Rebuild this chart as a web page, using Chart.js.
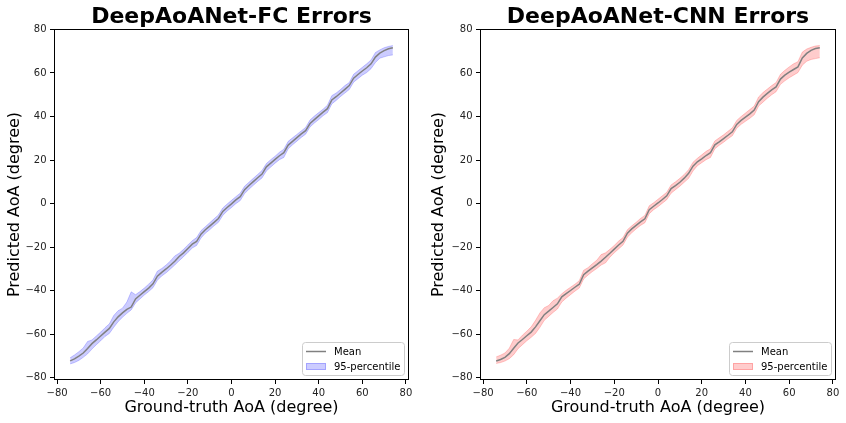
<!DOCTYPE html>
<html>
<head>
<meta charset="utf-8">
<script src="https://cdn.jsdelivr.net/npm/chart.js@4.4.1/dist/chart.umd.min.js"></script>
<style>
  body { margin: 0; background: #fff; }
  .wrap { position: absolute; top: 0; width: 423px; height: 423px; }
</style>
</head>
<body>
<div class="wrap" style="left:0"><canvas id="fcChart" width="423" height="423"></canvas></div>
<div class="wrap" style="left:423px"><canvas id="cnnChart" width="423" height="423"></canvas></div>
<script>
// ground-truth angles (degree)
const angles = [-74, -72, -70, -68, -66, -64, -62, -60, -58, -56, -54, -52, -50, -48, -46, -44, -42, -40, -38, -36,
  -34, -32, -30, -28, -26, -24, -22, -20, -18, -16, -14, -12, -10, -8, -6, -4, -2, 0, 2, 4,
  6, 8, 10, 12, 14, 16, 18, 20, 22, 24, 26, 28, 30, 32, 34, 36, 38, 40, 42, 44,
  46, 48, 50, 52, 54, 56, 58, 60, 62, 64, 66, 68, 70, 72, 74];

// DeepAoANet-FC
const fcMean = [-72.2, -71.3, -70.0, -68.6, -66.5, -64.3, -62.6, -60.8, -59.0, -57.3, -54.3, -52.0, -50.2, -48.6, -47.5, -43.8, -42.1, -40.4, -38.8, -36.8,
  -33.3, -31.6, -30.0, -28.3, -26.5, -24.3, -22.6, -20.6, -18.6, -17.4, -14.0, -12.0, -10.3, -8.6, -6.8, -3.6, -1.8, -0.1, 1.7, 3.2,
  6.4, 8.3, 10.1, 11.9, 13.6, 16.9, 18.6, 20.3, 22.0, 23.4, 26.9, 28.6, 30.3, 32.0, 33.5, 36.8, 38.6, 40.3, 42.0, 43.6,
  47.6, 49.1, 50.8, 52.5, 54.2, 57.6, 59.3, 60.9, 62.4, 64.2, 67.3, 69.1, 70.3, 71.1, 71.6];
const fcUpper = [-70.8, -69.5, -68.0, -66.3, -63.3, -62.6, -60.8, -59.0, -57.0, -55.2, -51.4, -49.2, -48.0, -45.2, -40.5, -41.8, -40.4, -38.8, -37.0, -35.0,
  -31.0, -29.8, -28.2, -26.3, -24.0, -22.8, -21.0, -19.0, -17.0, -15.6, -12.4, -10.6, -8.8, -7.0, -5.2, -2.0, -0.2, 1.5, 3.2, 4.8,
  8.0, 9.8, 11.6, 13.4, 15.2, 18.4, 20.2, 21.8, 23.6, 25.0, 28.6, 30.2, 31.8, 33.4, 35.0, 38.4, 40.2, 41.8, 43.4, 45.2,
  49.6, 50.8, 52.4, 54.2, 55.6, 59.4, 61.0, 62.6, 64.2, 66.0, 69.4, 70.6, 71.6, 72.2, 72.6];
const fcLower = [-73.6, -73.0, -72.0, -70.6, -69.0, -66.8, -64.8, -63.0, -61.0, -59.6, -56.8, -54.2, -52.2, -50.4, -48.8, -45.6, -43.8, -42.0, -40.4, -38.6,
  -35.2, -33.2, -31.8, -30.0, -28.2, -26.2, -24.4, -22.4, -20.4, -19.2, -15.8, -13.6, -12.0, -10.2, -8.6, -5.4, -3.4, -1.8, 0.0, 1.4,
  4.6, 6.6, 8.4, 10.2, 11.8, 15.0, 16.8, 18.6, 20.2, 21.2, 25.2, 27.0, 28.7, 30.4, 31.9, 35.2, 37.0, 38.6, 40.4, 41.8,
  45.8, 47.4, 49.2, 50.8, 52.4, 55.8, 57.4, 59.0, 60.2, 62.0, 64.8, 66.8, 67.4, 68.0, 68.3];

// DeepAoANet-CNN
const cnnMean = [-72.3, -71.6, -70.6, -68.9, -66.4, -64.0, -62.4, -60.7, -59.0, -56.6, -53.8, -51.0, -49.4, -47.7, -46.0, -42.8, -41.3, -39.9, -38.4, -37.0,
  -32.6, -31.0, -29.5, -28.0, -26.4, -24.6, -22.8, -20.9, -19.0, -17.3, -13.6, -11.6, -10.0, -8.4, -7.0, -2.8, -1.2, 0.3, 1.9, 3.6,
  6.9, 8.3, 9.8, 11.7, 13.9, 17.2, 19.2, 20.6, 22.1, 23.4, 27.0, 28.4, 29.9, 31.4, 33.0, 36.4, 38.2, 39.7, 41.2, 43.0,
  46.8, 48.9, 50.6, 52.2, 53.6, 57.2, 59.0, 60.4, 61.6, 62.8, 66.9, 69.0, 70.4, 71.2, 71.6];
const cnnUpper = [-70.4, -69.6, -68.6, -66.4, -62.4, -62.6, -60.4, -58.6, -56.6, -53.6, -50.2, -47.8, -46.8, -44.6, -43.4, -41.4, -39.8, -38.4, -37.0, -35.4,
  -30.6, -29.4, -27.6, -26.0, -23.4, -22.6, -21.0, -19.2, -17.2, -15.6, -12.0, -10.2, -8.6, -6.8, -5.4, -1.0, 0.4, 2.0, 3.6, 5.2,
  8.6, 10.0, 11.6, 13.4, 15.6, 19.0, 20.8, 22.4, 24.0, 25.2, 28.8, 30.2, 31.6, 33.2, 34.8, 38.2, 40.0, 41.6, 43.2, 44.8,
  49.0, 51.0, 52.6, 54.2, 55.6, 59.4, 61.2, 62.8, 64.2, 65.2, 69.6, 71.0, 71.8, 72.4, 72.6];
const cnnLower = [-73.4, -73.0, -72.3, -71.2, -69.4, -66.6, -64.8, -63.0, -61.4, -59.6, -56.8, -53.6, -51.8, -50.0, -48.4, -45.2, -43.4, -41.8, -40.2, -38.8,
  -34.6, -32.8, -31.2, -29.8, -28.2, -27.2, -24.6, -22.6, -20.8, -19.0, -15.4, -13.4, -11.6, -10.0, -8.8, -4.6, -2.8, -1.4, 0.2, 1.8,
  4.8, 6.4, 8.0, 9.8, 11.6, 15.0, 17.4, 18.8, 20.2, 21.2, 25.2, 26.8, 28.2, 29.8, 31.2, 34.6, 36.4, 37.8, 39.2, 40.8,
  44.8, 46.6, 48.4, 50.0, 51.4, 54.8, 56.4, 57.8, 59.0, 60.2, 63.6, 65.4, 66.2, 66.6, 67.0];

const xTicks = [-80, -60, -40, -20, 0, 20, 40, 60, 80];
const yTicks = [-80, -60, -40, -20, 0, 20, 40, 60, 80];

const FONT = "'DejaVu Sans', sans-serif";

function toPoints(ys) {
    return angles.map((x, i) => ({ x: x, y: ys[i] }));
}

function minusSign(v) {
    return String(v).replace('-', '\u2212');
}

// 枠線と凡例（プロット内の右下）
const frameAndLegend = {
    id: 'frameAndLegend',
    afterDraw(chart, args, opts) {
        const ctx = chart.ctx;
        const a = chart.chartArea;
        ctx.save();
        ctx.strokeStyle = '#000';
        ctx.lineWidth = 1;
        ctx.strokeRect(a.left + 0.5, a.top + 0.5, a.right - a.left - 1, a.bottom - a.top - 1);

        const ds = chart.data.datasets;
        const w = 102, h = 33;
        const x0 = a.right - 5 - w, y0 = a.bottom - 5 - h;
        ctx.beginPath();
        ctx.roundRect(x0 + 0.5, y0 + 0.5, w, h, 3);
        ctx.fillStyle = 'rgba(255,255,255,0.8)';
        ctx.fill();
        ctx.strokeStyle = '#cccccc';
        ctx.stroke();

        ctx.beginPath();
        ctx.moveTo(x0 + 4, y0 + 9.5);
        ctx.lineTo(x0 + 24, y0 + 9.5);
        ctx.strokeStyle = ds[0].borderColor;
        ctx.lineWidth = 1.5;
        ctx.stroke();

        ctx.fillStyle = ds[1].backgroundColor;
        ctx.fillRect(x0 + 4, y0 + 21, 20, 7);
        ctx.strokeStyle = ds[1].borderColor;
        ctx.lineWidth = 1;
        ctx.strokeRect(x0 + 4.5, y0 + 21.5, 19, 6);

        ctx.fillStyle = '#000';
        ctx.font = '10px ' + FONT;
        ctx.textBaseline = 'middle';
        ctx.fillText(ds[0].label, x0 + 32, y0 + 10);
        ctx.fillText(ds[1].label, x0 + 32, y0 + 25);
        ctx.restore();
    }
};

function makeChart(canvasId, title, mean, upper, lower, bandColor, bandEdge, yWidth, padRight, yTitlePad) {
    return new Chart(document.getElementById(canvasId), {
        type: 'line',
        data: {
            datasets: [
                {
                    label: 'Mean',
                    data: toPoints(mean),
                    borderColor: 'gray',
                    borderWidth: 1.5,
                    pointRadius: 0,
                    fill: false
                },
                {
                    label: '95-percentile',
                    data: toPoints(upper),
                    borderColor: bandEdge,
                    backgroundColor: bandColor,
                    borderWidth: 1,
                    pointRadius: 0,
                    fill: '+1'
                },
                {
                    label: '',
                    data: toPoints(lower),
                    borderColor: bandEdge,
                    borderWidth: 1,
                    pointRadius: 0,
                    fill: false
                }
            ]
        },
        options: {
            responsive: false,
            animation: false,
            layout: { padding: { left: 0, right: padRight, top: 0, bottom: 0 } },
            plugins: {
                legend: { display: false },
                tooltip: { enabled: false },
                title: {
                    display: true,
                    text: title,
                    fullSize: false,
                    color: '#000',
                    font: { family: FONT, size: 22, weight: 'bold', lineHeight: 1 },
                    padding: { top: 6, bottom: 1 }
                }
            },
            scales: {
                x: {
                    type: 'linear',
                    min: -81.4,
                    max: 81.4,
                    afterBuildTicks: s => { s.ticks = xTicks.map(v => ({ value: v })); },
                    afterFit: s => { s.height = 43; },
                    border: { display: false },
                    grid: { drawOnChartArea: false, drawTicks: true, tickLength: 4, color: '#000' },
                    ticks: {
                        autoSkip: false,
                        maxRotation: 0,
                        padding: 3,
                        color: '#222',
                        font: { family: FONT, size: 10 },
                        callback: v => minusSign(v)
                    },
                    title: {
                        display: true,
                        text: 'Ground-truth AoA (degree)',
                        color: '#000',
                        font: { family: FONT, size: 16 },
                        padding: { top: 0, bottom: 6 }
                    }
                },
                y: {
                    type: 'linear',
                    min: -81,
                    max: 80.2,
                    afterBuildTicks: s => { s.ticks = yTicks.map(v => ({ value: v })); },
                    afterFit: s => { s.width = yWidth; },
                    border: { display: false },
                    grid: { drawOnChartArea: false, drawTicks: true, tickLength: 4, color: '#000' },
                    ticks: {
                        padding: 3.5,
                        color: '#222',
                        font: { family: FONT, size: 10 },
                        callback: v => minusSign(v)
                    },
                    title: {
                        display: true,
                        text: 'Predicted AoA (degree)',
                        color: '#000',
                        font: { family: FONT, size: 16 },
                        padding: { top: yTitlePad, bottom: 0 }
                    }
                }
            }
        },
        plugins: [frameAndLegend]
    });
}

makeChart('fcChart', 'DeepAoANet-FC Errors', fcMean, fcUpper, fcLower,
    'rgba(0,0,255,0.2)', 'rgba(0,0,255,0.2)', 54, 14, 5);
makeChart('cnnChart', 'DeepAoANet-CNN Errors', cnnMean, cnnUpper, cnnLower,
    'rgba(255,0,0,0.2)', 'rgba(255,0,0,0.2)', 57, 10, 6);
</script>
</body>
</html>
